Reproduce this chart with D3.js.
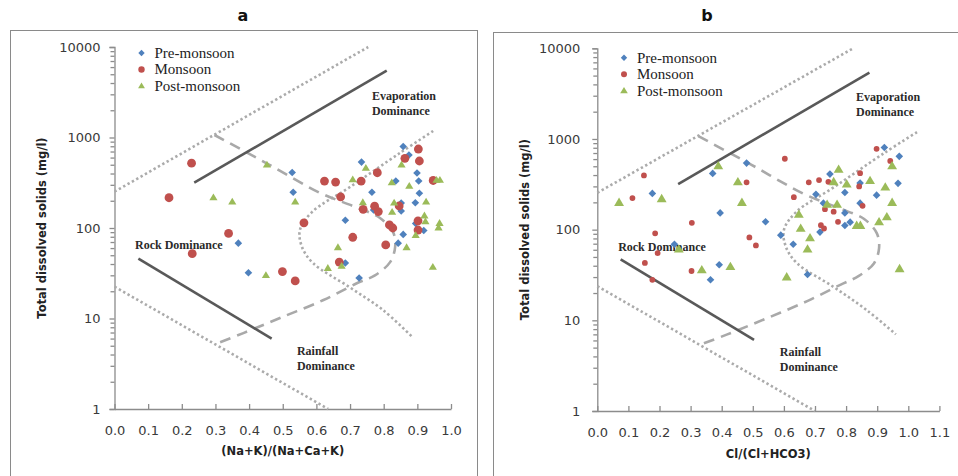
<!DOCTYPE html>
<html>
<head>
<meta charset="utf-8">
<script src="https://d3js.org/d3.v7.min.js"></script>
<style>
  body { margin: 0; background: #fff; }
  svg { display: block; }
  .serif { font-family: "Liberation Serif", "Times New Roman", serif; }
  .sans { font-family: "DejaVu Sans", Verdana, sans-serif; }
</style>
</head>
<body>
<div id="chart"></div>
<script>
// ---- data: [ratio, TDS mg/l] ----
var preMonsoonA = [[0.368,68],[0.398,32],[0.528,410],[0.531,248],[0.686,122],[0.686,41],[0.727,28],[0.734,535],
  [0.765,248],[0.770,158],[0.836,330],[0.852,154],[0.852,189],[0.858,795],[0.875,641],[0.858,85],[0.843,68],
  [0.899,405],[0.904,330],[0.906,242],[0.894,190],[0.895,112],[0.919,94],[0.947,330]];
var monsoonA = [[0.162,216],[0.229,520],[0.231,52],[0.339,87],[0.499,33],[0.537,26],[0.563,114],[0.624,330],
  [0.657,322],[0.672,221],[0.668,42],[0.708,79],[0.733,330],[0.739,161],[0.781,408],[0.773,174],[0.784,152],
  [0.806,65],[0.817,108],[0.827,100],[0.846,175],[0.863,589],[0.903,746],[0.906,550],[0.902,95],[0.902,120],[0.947,335]];
var postMonsoonA = [[0.294,217],[0.350,195],[0.453,500],[0.450,30],[0.537,195],[0.634,36],[0.664,61],[0.675,38],
  [0.708,343],[0.738,192],[0.747,460],[0.824,318],[0.825,150],[0.831,190],[0.853,500],[0.876,291],[0.868,61],
  [0.895,83],[0.926,195],[0.921,137],[0.924,118],[0.946,37],[0.957,339],[0.967,339],[0.966,113],[0.963,101]];

var preMonsoonB = [[0.177,251],[0.248,69],[0.371,417],[0.395,153],[0.364,28],[0.392,41],[0.480,542],[0.541,122],
  [0.590,87],[0.630,69],[0.676,32],[0.703,245],[0.716,94],[0.727,196],[0.748,410],[0.796,257],[0.796,153],
  [0.796,111],[0.813,121],[0.845,326],[0.845,196],[0.898,240],[0.923,804],[0.971,643],[0.967,324]];
var monsoonB = [[0.150,396],[0.113,223],[0.186,91],[0.194,55],[0.153,43],[0.177,28],[0.304,119],[0.303,35],
  [0.480,333],[0.489,82],[0.510,67],[0.603,605],[0.632,228],[0.680,333],[0.713,352],[0.743,337],[0.732,168],
  [0.760,158],[0.719,112],[0.729,103],[0.774,122],[0.845,420],[0.842,300],[0.853,183],[0.898,779],[0.942,573]];
var postMonsoonB = [[0.070,199],[0.207,219],[0.262,61],[0.336,36],[0.389,505],[0.428,39],[0.452,336],[0.465,199],
  [0.609,30],[0.648,147],[0.654,103],[0.676,61],[0.684,81],[0.739,190],[0.760,337],[0.776,462],[0.771,190],
  [0.802,318],[0.834,111],[0.846,111],[0.877,347],[0.906,122],[0.926,294],[0.931,138],[0.948,199],[0.948,505],[0.972,37]];

// Gibbs boundary curves (same template pasted on both panels)
var evapDotA = [[0,252],[0.754,10000]];
var evapSolidA = [[0.237,317],[0.809,5470]];
var rockSolidA = [[0.071,46],[0.467,6.0]];
var rainDotA = [[0,22.5],[0.635,1]];
var outerDashA = [[0.297,1066],[0.452,519],[0.611,244],[0.715,171],[0.789,129],[0.828,90],[0.834,62],[0.819,42],
  [0.774,30],[0.720,24.5],[0.621,16],[0.502,10.5],[0.383,6.9],[0.304,5.3]];
var innerDotA = [[0.947,1180],[0.848,674],[0.700,284],[0.587,150],[0.551,95],[0.557,62],[0.590,41],[0.700,22],
  [0.798,12.4],[0.884,6.3]];

var evapDotB = [[0,255],[0.823,10000]];
var evapSolidB = [[0.260,318],[0.875,5380]];
var rockSolidB = [[0.075,47],[0.504,6.1]];
var rainDotB = [[0,23.8],[0.70,1]];
var outerDashB = [[0.325,1076],[0.493,525],[0.665,247],[0.777,173],[0.858,131],[0.899,91],[0.906,62.5],[0.890,42.7],
  [0.841,30.9],[0.783,24.8],[0.675,16.3],[0.547,10.6],[0.418,7.0],[0.332,5.4]];
var innerDotB = [[1.028,1190],[0.922,698],[0.761,294],[0.639,156],[0.600,99],[0.607,64],[0.642,42.7],[0.761,23.2],
  [0.867,12.9],[0.960,7.0]];

var seriesNames = ["Pre-monsoon", "Monsoon", "Post-monsoon"];
var yTickValues = [1, 10, 100, 1000, 10000];
var xTicksA = d3.range(0, 11).map(d => d / 10);
var xTicksB = d3.range(0, 12).map(d => d / 10);

var colors = ["#4F81BD", "#C0504D", "#9BBB59"];

var svg = d3.select("#chart")
    .append("svg")
    .attr("width", 958)
    .attr("height", 476);

function markerPath(kind, s) {
  if (kind === 0) return "M0," + (-s) + "L" + s + ",0L0," + s + "L" + (-s) + ",0Z";
  if (kind === 2) return "M0," + (-s * 0.95) + "L" + (s * 0.95) + "," + (s * 0.65) + "L" + (-s * 0.95) + "," + (s * 0.65) + "Z";
  return d3.arc()({innerRadius: 0, outerRadius: s, startAngle: 0, endAngle: 2 * Math.PI});
}

function drawPanel(p) {
  var g = svg.append("g");

  // frame
  g.append("rect")
      .attr("x", p.frame[0]).attr("y", p.frame[1])
      .attr("width", p.frame[2]).attr("height", p.frame[3])
      .attr("fill", "none").attr("stroke", "#8a8a8a").attr("stroke-width", 1);

  g.append("text")
      .attr("class", "sans")
      .attr("x", p.titleX).attr("y", 21)
      .attr("text-anchor", "middle")
      .attr("font-weight", "bold").attr("font-size", "16px")
      .attr("fill", "#111")
      .text(p.title);

  var x = d3.scaleLinear().domain(p.xDomain).range(p.xRange);
  var y = d3.scaleLog().domain([1, 10000]).range(p.yRange);

  // axes
  var minor = [];
  [1, 10, 100, 1000].forEach(function(dec) {
    for (var k = 2; k <= 9; k++) minor.push(dec * k);
  });

  g.append("g")
      .attr("transform", `translate(${p.xRange[0]},0)`)
      .call(d3.axisLeft(y).tickValues(yTickValues).tickFormat(d3.format("d")).tickSize(5).tickPadding(p.yPad));
  g.append("g")
      .attr("transform", `translate(${p.xRange[0]},0)`)
      .call(d3.axisLeft(y).tickValues(minor).tickFormat("").tickSizeInner(4).tickSizeOuter(0))
      .select(".domain").remove();

  g.append("g")
      .attr("transform", `translate(0,${p.yRange[0]})`)
      .call(d3.axisBottom(x).tickValues(p.xTicks).tickFormat(d3.format(".1f"))
            .tickSizeInner(-5).tickSizeOuter(0).tickPadding(17));

  g.selectAll(".tick line, .domain")
      .attr("stroke", "#8c8c8c").attr("stroke-width", 1.3);
  g.selectAll(".tick text")
      .attr("font-family", "'DejaVu Sans', Verdana, sans-serif")
      .attr("font-size", "13px")
      .attr("fill", "#3a3a3a");

  // axis titles
  g.append("text")
      .attr("class", "sans")
      .attr("transform", `translate(${p.yTitleX}, ${(p.yRange[0] + p.yRange[1]) / 2}) rotate(-90)`)
      .attr("text-anchor", "middle")
      .attr("dy", "0.35em")
      .attr("font-weight", "bold").attr("font-size", "11.5px")
      .attr("fill", "#222")
      .text("Total dissolved solids (mg/l)");

  g.append("text")
      .attr("class", "sans")
      .attr("x", (p.xRange[0] + p.xRange[1]) / 2)
      .attr("y", p.xTitleY)
      .attr("text-anchor", "middle")
      .attr("font-weight", "bold").attr("font-size", "11.5px")
      .attr("fill", "#222")
      .text(p.xTitle);

  // boundary lines
  var line = d3.line().x(d => x(d[0])).y(d => y(d[1]));
  var curve = d3.line().x(d => x(d[0])).y(d => y(d[1])).curve(d3.curveCatmullRom.alpha(0.5));

  var dotted = {stroke: "#ababab", width: 2.6, dash: "2.4,2.6"};
  var dashed = {stroke: "#a9a9a9", width: 2.6, dash: "11,7"};
  var solid = {stroke: "#595959", width: 2.6, dash: null};

  [[p.lines.evapDot, line, dotted], [p.lines.rainDot, line, dotted],
   [p.lines.innerDot, curve, dotted], [p.lines.outerDash, curve, dashed],
   [p.lines.evapSolid, line, solid], [p.lines.rockSolid, line, solid]].forEach(function(l) {
    g.append("path")
        .attr("d", l[1](l[0]))
        .attr("fill", "none")
        .attr("stroke", l[2].stroke)
        .attr("stroke-width", l[2].width)
        .attr("stroke-dasharray", l[2].dash);
  });

  // annotations
  var ann = g.append("g")
      .attr("class", "serif")
      .attr("font-size", "12px").attr("font-weight", "bold")
      .attr("fill", "#2a2a2a");
  p.notes.forEach(function(n) {
    var t = ann.append("text").attr("x", x(n.at[0])).attr("y", y(n.at[1]));
    n.lines.forEach(function(s, i) {
      t.append("tspan").attr("x", x(n.at[0])).attr("dy", i === 0 ? 0 : "1.22em").text(s);
    });
  });

  // points
  p.series.forEach(function(data, i) {
    g.append("g").selectAll("path")
        .data(data)
        .enter()
        .append("path")
        .attr("transform", d => `translate(${x(d[0])},${y(d[1])})`)
        .attr("d", markerPath(i, p.markerSize[i]))
        .attr("fill", colors[i]);
  });

  // legend
  var leg = g.append("g");
  seriesNames.forEach(function(name, i) {
    var ly = p.legend.y + i * p.legend.step;
    leg.append("path")
        .attr("transform", `translate(${p.legend.x},${ly})`)
        .attr("d", markerPath(i, p.legendSize[i]))
        .attr("fill", colors[i]);
    leg.append("text")
        .attr("class", "serif")
        .attr("x", p.legend.x + 13).attr("y", ly)
        .attr("dy", "0.33em")
        .attr("font-size", "15px")
        .attr("fill", "#222")
        .text(name);
  });
}

drawPanel({
  title: "a", titleX: 243,
  frame: [10.5, 30.5, 467, 470],
  xDomain: [0, 1], xRange: [114.5, 451], yRange: [409, 47],
  xTicks: xTicksA, yPad: 9,
  xTitle: "(Na+K)/(Na+Ca+K)", xTitleY: 455, yTitleX: 42,
  series: [preMonsoonA, monsoonA, postMonsoonA],
  markerSize: [3.8, 4.4, 4.3],
  legend: {x: 141.5, y: 53, step: 16.5},
  legendSize: [3.2, 3.2, 3.6],
  lines: {evapDot: evapDotA, evapSolid: evapSolidA, rockSolid: rockSolidA, rainDot: rainDotA,
          outerDash: outerDashA, innerDot: innerDotA},
  notes: [
    {at: [0.765, 2600], lines: ["Evaporation", "Dominance"]},
    {at: [0.061, 58.6], lines: ["Rock Dominance"]},
    {at: [0.542, 3.95], lines: ["Rainfall", "Dominance"]}
  ]
});

drawPanel({
  title: "b", titleX: 707,
  frame: [493.5, 32.5, 480, 470],
  xDomain: [0, 1.1], xRange: [597.3, 939.4], yRange: [411, 48.3],
  xTicks: xTicksB, yPad: 12,
  xTitle: "Cl/(Cl+HCO3)", xTitleY: 458, yTitleX: 525,
  series: [preMonsoonB, monsoonB, postMonsoonB],
  markerSize: [3.8, 2.9, 5.2],
  legend: {x: 624, y: 57.7, step: 16.5},
  legendSize: [3.2, 3.0, 4.0],
  lines: {evapDot: evapDotB, evapSolid: evapSolidB, rockSolid: rockSolidB, rainDot: rainDotB,
          outerDash: outerDashB, innerDot: innerDotB},
  notes: [
    {at: [0.832, 2620], lines: ["Evaporation", "Dominance"]},
    {at: [0.067, 58], lines: ["Rock Dominance"]},
    {at: [0.587, 4.0], lines: ["Rainfall", "Dominance"]}
  ]
});
</script>
</body>
</html>
